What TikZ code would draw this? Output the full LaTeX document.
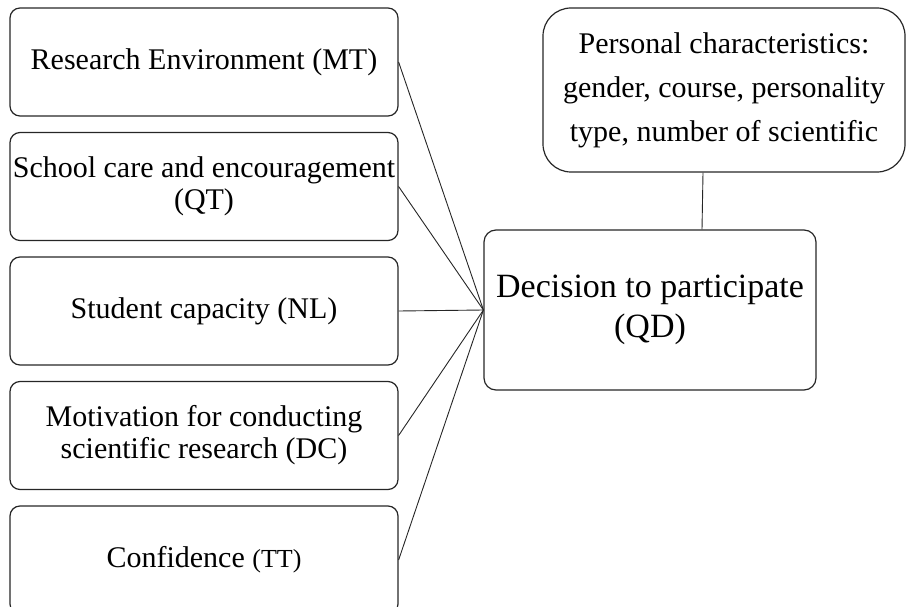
\documentclass[tikz,border=0pt]{standalone}
\usepackage{fontspec}
\setmainfont{Liberation Serif}
\usetikzlibrary{positioning}
\begin{document}
\begin{tikzpicture}[x=1pt,y=-1pt,node distance=124.5pt,line width=0.9pt,
	factor node/.style={rectangle,draw=black!85,line width=1.2pt,rounded corners=10pt,align=center,
		inner sep=1pt,minimum width=388pt,minimum height=108pt,font=\fontsize{30}{32}\selectfont},
	main node/.style={rectangle,draw=black!85,line width=1.2pt,rounded corners=12pt,align=center,
		inner sep=1pt,minimum width=332pt,minimum height=160pt,font=\fontsize{34}{40}\selectfont},
	info node/.style={rectangle,draw=black!85,line width=1.2pt,rounded corners=28pt,align=center,
		inner sep=1pt,minimum width=362pt,minimum height=164pt,font=\fontsize{30}{44}\selectfont}]

	\useasboundingbox (0,0) rectangle (907,607);

	\node[factor node] (MT) at (204,62) {Research Environment (MT)};
	\node[factor node] (QT) [below of=MT] {School care and encouragement\\(QT)};
	\node[factor node] (NL) [below of=QT] {Student capacity (NL)};
	\node[factor node] (DC) [below of=NL] {Motivation for conducting\\scientific research (DC)};
	\node[factor node] (TT) [below of=DC] {Confidence {\fontsize{26}{28}\selectfont(TT)}};

	\node[main node] (QD) at (650,310) {Decision to participate\\(QD)};
	\node[info node] (PC) at (724,90) {Personal characteristics:\\gender, course, personality\\type, number of scientific};

	\path[draw=black!85]
	(MT.east) edge (QD.west)
	(QT.east) edge (QD.west)
	(NL.east) edge (QD.west)
	(DC.east) edge (QD.west)
	(TT.east) edge (QD.west)
	([xshift=-21pt]PC.south) edge ([xshift=52pt]QD.north);

\end{tikzpicture}
\end{document}
